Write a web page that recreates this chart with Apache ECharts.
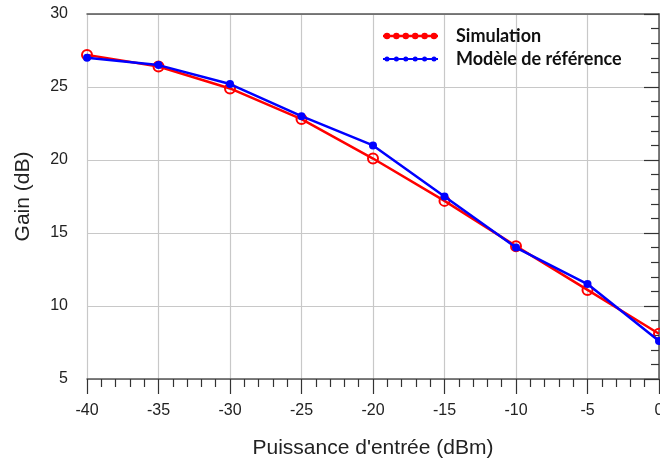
<!DOCTYPE html>
<html>
<head>
<meta charset="utf-8">
<script src="https://cdn.jsdelivr.net/npm/echarts@6/dist/echarts.min.js"></script>
<style>html,body{margin:0;padding:0;background:#fff;}#c{width:660px;height:459px;}</style>
</head>
<body>
<div id="c"></div>
<script>
var xValues = [-40, -35, -30, -25, -20, -15, -10, -5, 0];
var simulation = [27.2, 26.4, 24.9, 22.8, 20.1, 17.2, 14.1, 11.1, 8.1];
var reference = [27.0, 26.5, 25.2, 23.0, 21.0, 17.5, 14.0, 11.5, 7.6];
var seriesNames = ['Simulation', 'Modèle de référence'];
var xName = "Puissance d'entrée (dBm)";
var yName = 'Gain (dB)';

function pairs(v) { return xValues.map(function (x, i) { return [x, v[i]]; }); }

function legendPath(r, lw) {
  var p = 'M0,' + (8 - lw) + ' L110,' + (8 - lw) + ' L110,' + (8 + lw) + ' L0,' + (8 + lw) + ' Z';
  var n = 6;
  for (var i = 0; i < n; i++) {
    var cx = 8 + i * (94 / (n - 1));
    p += ' M' + (cx - r) + ',8 a' + r + ',' + r + ' 0 1,1 ' + (2 * r) + ',0 a' + r + ',' + r + ' 0 1,1 ' + (-2 * r) + ',0 Z';
  }
  p += ' M0,0 L0.01,0 L0.01,0.01 Z M0,16 L0.01,16 L0.01,15.99 Z';
  return 'path://' + p;
}

var chart = echarts.init(document.getElementById('c'));
var axisColor = '#555555';
chart.setOption({
  animation: false,
  backgroundColor: '#ffffff',
  grid: { left: 87, right: 1, top: 14, bottom: 80, outerBoundsMode: 'none', containLabel: false },
  legend: {
    orient: 'vertical',
    left: 378,
    top: 21,
    itemWidth: 55,
    itemHeight: 8,
    itemGap: 3,
    data: [
      { name: seriesNames[0], icon: legendPath(6.5, 2.5), itemStyle: { color: '#ff0000', borderWidth: 0 } },
      { name: seriesNames[1], icon: legendPath(5, 2), itemStyle: { color: '#0000ff', borderWidth: 0 } }
    ],
    textStyle: { fontFamily: 'Lato', fontWeight: 'bold', fontSize: 18, color: '#111', lineHeight: 20, padding: [0, 0, 0, 13] }
  },
  xAxis: [{
    type: 'value', min: -40, max: 0, interval: 5,
    name: xName, nameLocation: 'middle', nameGap: 59,
    nameTextStyle: { fontFamily: 'Liberation Sans', fontSize: 21, color: '#222' },
    axisLine: { show: true, lineStyle: { color: axisColor, width: 1.5 } },
    axisTick: { show: true, inside: false, length: 15, lineStyle: { color: '#333', width: 1.2 } },
    minorTick: { show: true, splitNumber: 5, length: 8, lineStyle: { color: '#333', width: 1.2 } },
    axisLabel: { margin: 24, fontFamily: 'Liberation Sans', fontSize: 16, color: '#222', showMaxLabel: true, showMinLabel: true },
    splitLine: { show: true, lineStyle: { color: '#c8c8c8', width: 1.2 } }
  }, {
    type: 'value', position: 'top', min: -40, max: 0,
    axisLine: { show: true, onZero: false, lineStyle: { color: axisColor, width: 1.5 } },
    axisTick: { show: false }, axisLabel: { show: false }, splitLine: { show: false }
  }],
  yAxis: {
    type: 'value', min: 5, max: 30, interval: 5,
    name: yName, nameLocation: 'middle', nameGap: 53, nameRotate: 90,
    nameTextStyle: { fontFamily: 'Liberation Sans', fontSize: 21, color: '#222' },
    axisLine: { show: true, lineStyle: { color: axisColor, width: 1.5 } },
    axisTick: { show: true, inside: false, length: 15, lineStyle: { color: '#333', width: 1.2 } },
    minorTick: { show: true, splitNumber: 5, length: 8, lineStyle: { color: '#333', width: 1.2 } },
    axisLabel: { margin: 19, fontFamily: 'Liberation Sans', fontSize: 16, color: '#222' },
    splitLine: { show: true, lineStyle: { color: '#c8c8c8', width: 1.2 } }
  },
  series: [{
    name: seriesNames[0], type: 'line', data: pairs(simulation),
    symbol: 'circle', symbolSize: 10, showAllSymbol: true,
    lineStyle: { color: '#ff0000', width: 2.5 },
    itemStyle: { color: 'rgba(255,255,255,0)', borderColor: '#ff0000', borderWidth: 2 },
    z: 2
  }, {
    name: seriesNames[1], type: 'line', data: pairs(reference),
    symbol: 'circle', symbolSize: 8,
    lineStyle: { color: '#0000ff', width: 2.5 },
    itemStyle: { color: '#0000ff', borderColor: '#0000ff', borderWidth: 0 },
    z: 3
  }]
});
</script>
</body>
</html>
